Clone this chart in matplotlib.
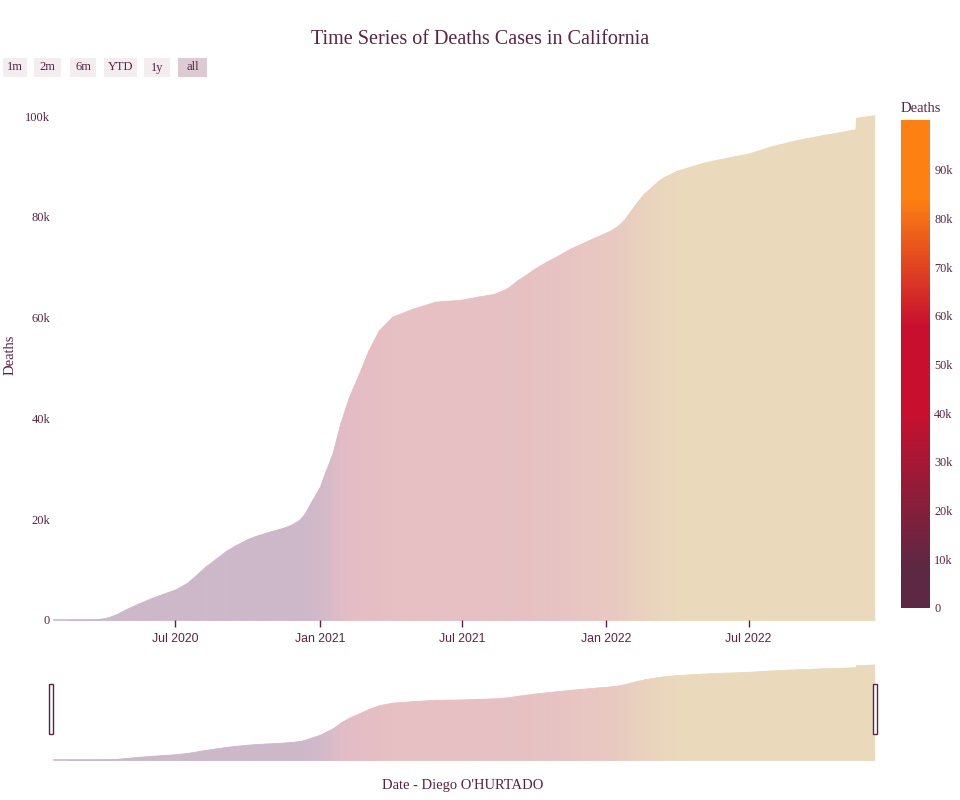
import matplotlib
matplotlib.use('Agg')
import matplotlib.pyplot as plt
from matplotlib.colors import LinearSegmentedColormap, Normalize
from matplotlib.patches import Rectangle
import matplotlib.colorbar as mcolorbar
import numpy as np
import pandas as pd

# cumulative deaths
dates = ['2020-01-27', '2020-02-15', '2020-03-01', '2020-03-15', '2020-03-25',
         '2020-04-05', '2020-04-16', '2020-05-01', '2020-05-15', '2020-06-01',
         '2020-06-15', '2020-07-01', '2020-07-15', '2020-07-22', '2020-08-01',
         '2020-08-08', '2020-08-20', '2020-09-03', '2020-09-15', '2020-10-01',
         '2020-10-15', '2020-11-01', '2020-11-15', '2020-11-25', '2020-12-05',
         '2020-12-12', '2020-12-22', '2021-01-01', '2021-01-08', '2021-01-17',
         '2021-01-27', '2021-02-07', '2021-02-20', '2021-03-04', '2021-03-17',
         '2021-04-03', '2021-04-29', '2021-05-28', '2021-06-15', '2021-07-01',
         '2021-07-21', '2021-08-10', '2021-08-20', '2021-08-29', '2021-09-10',
         '2021-09-20', '2021-10-01', '2021-10-15', '2021-11-01', '2021-11-17',
         '2021-12-01', '2021-12-21', '2022-01-06', '2022-01-15', '2022-01-23',
         '2022-02-01', '2022-02-09', '2022-02-18', '2022-02-26', '2022-03-08',
         '2022-03-15', '2022-04-01', '2022-04-20', '2022-05-05', '2022-06-01',
         '2022-07-01', '2022-07-29', '2022-09-01', '2022-10-05', '2022-11-14',
         '2022-11-15', '2022-12-08']
deaths = [0, 0, 5, 15, 200,
          500, 1100, 2300, 3300, 4400,
          5200, 6100, 7300, 8200, 9600,
          10600, 12000, 13700, 14800, 16100,
          16900, 17700, 18300, 18900, 19800,
          21000, 23800, 26500, 29500, 33100,
          39100, 44300, 49000, 53600, 57500,
          60200, 61800, 63200, 63400, 63600,
          64200, 64700, 65300, 66000, 67500,
          68500, 69700, 71000, 72400, 73800,
          74800, 76200, 77300, 78200, 79400,
          81300, 83000, 84700, 85800, 87200,
          87900, 89200, 90100, 90800, 91700,
          92600, 94000, 95300, 96300, 97400,
          99700, 100200]

xtick_dates = ['2020-07-01', '2021-01-01', '2021-07-01', '2022-01-01', '2022-07-01']
xtick_labels = ['Jul 2020', 'Jan 2021', 'Jul 2021', 'Jan 2022', 'Jul 2022']
ytick_vals = [0, 20000, 40000, 60000, 80000, 100000]
ytick_labels = ['0', '20k', '40k', '60k', '80k', '100k']
cbar_ticks = [0, 10000, 20000, 30000, 40000, 50000, 60000, 70000, 80000, 90000]
cbar_labels = ['0', '10k', '20k', '30k', '40k', '50k', '60k', '70k', '80k', '90k']
buttons = ['1m', '2m', '6m', 'YTD', '1y', 'all']

MAROON = '#5a2341'
SERIF = 'Liberation Serif'
SANS = 'Liberation Sans'
W, H = 960, 800

x = pd.to_datetime(dates)
y = np.array(deaths, dtype=float)

# colour scale shown in the colorbar
cmap = LinearSegmentedColormap.from_list('deaths', [
    (0.0, '#5c2843'), (0.08, '#5c2843'), (0.40, '#c8102e'),
    (0.58, '#c8102e'), (0.84, '#fd8012'), (1.0, '#fd8012')])
# the same scale as it looks on the translucent bars
bar_cmap = LinearSegmentedColormap.from_list('deaths_pale', [
    (0.0, '#cdb8ca'), (0.20, '#cdb8ca'), (0.45, '#e4bcc5'),
    (0.72, '#e7c2c2'), (0.90, '#ead9bb'), (1.0, '#ead9bb')])
norm = Normalize(0, max(deaths))


def draw_area(ax):
    for i in range(len(x) - 1):
        c = bar_cmap(norm((y[i] + y[i + 1]) / 2))
        ax.fill_between(x[i:i + 2], 0, y[i:i + 2], color=c, lw=0.6, edgecolor=c)
    ax.axhline(0, color='#cdb8ca', lw=1.2, zorder=0)


fig = plt.figure(figsize=(W / 100, H / 100), dpi=100)

# main plot
ax = fig.add_axes([53 / W, 1 - 620 / H, 822 / W, 529 / H])
draw_area(ax)
ax.set_xlim(pd.Timestamp('2020-01-27'), pd.Timestamp('2022-12-09'))
ax.set_ylim(0, 105000)
ax.set_xticks(pd.to_datetime(xtick_dates))
ax.set_xticklabels(xtick_labels, fontfamily=SANS, fontsize=8.8, color=MAROON)
ax.set_yticks(ytick_vals)
ax.set_yticklabels(ytick_labels, fontfamily=SERIF, fontsize=9, color=MAROON)
ax.tick_params(axis='x', length=5, width=1, color=MAROON, pad=4)
ax.tick_params(axis='y', length=0, pad=2)
for s in ax.spines.values():
    s.set_visible(False)
fig.text(10 / W, 1 - 355 / H, 'Deaths', rotation=90, ha='center', va='center',
         fontfamily=SERIF, fontsize=10.5, color=MAROON)

fig.text(0.5, 1 - 40 / H, 'Time Series of Deaths Cases in California',
         ha='center', va='center', fontfamily=SERIF, fontsize=14.5, color=MAROON)

# range slider
sax = fig.add_axes([53 / W, 1 - 760 / H, 822 / W, 100 / H])
draw_area(sax)
sax.set_xlim(ax.get_xlim())
sax.set_ylim(0, 105000)
sax.axis('off')
for hx in (49, 873):
    fig.patches.append(Rectangle((hx / W, 1 - 734 / H), 4 / W, 50 / H,
                                 transform=fig.transFigure, facecolor='white',
                                 edgecolor=MAROON, lw=1))
fig.text(463 / W, 1 - 786 / H, "Date - Diego O'HURTADO", ha='center', va='center',
         fontfamily=SERIF, fontsize=10.5, color=MAROON)

# range selector buttons
bx = [(3, 27), (34, 61), (70, 96), (104, 137), (144, 170), (178, 207)]
for (x0, x1), lab in zip(bx, buttons):
    fc = '#dccbd3' if lab == 'all' else '#f3edef'
    fig.patches.append(Rectangle((x0 / W, 1 - 77 / H), (x1 - x0) / W, 19 / H,
                                 transform=fig.transFigure, facecolor=fc,
                                 edgecolor='none'))
    fig.text((x0 + x1) / 2 / W, 1 - 67.5 / H, lab, ha='center', va='center',
             fontfamily=SERIF, fontsize=9, color=MAROON)

# colorbar
cax = fig.add_axes([901 / W, 1 - 608 / H, 29 / W, 488 / H])
cb = mcolorbar.ColorbarBase(cax, cmap=cmap, norm=norm)
cb.outline.set_visible(False)
cb.set_ticks(cbar_ticks)
cb.set_ticklabels(cbar_labels)
cax.tick_params(length=0, pad=3, labelsize=8.8, labelcolor=MAROON)
for t in cax.get_yticklabels():
    t.set_fontfamily(SERIF)
fig.text(901 / W, 1 - 108 / H, 'Deaths', ha='left', va='center',
         fontfamily=SERIF, fontsize=10.5, color=MAROON)

fig.savefig('out.png', dpi=100)
